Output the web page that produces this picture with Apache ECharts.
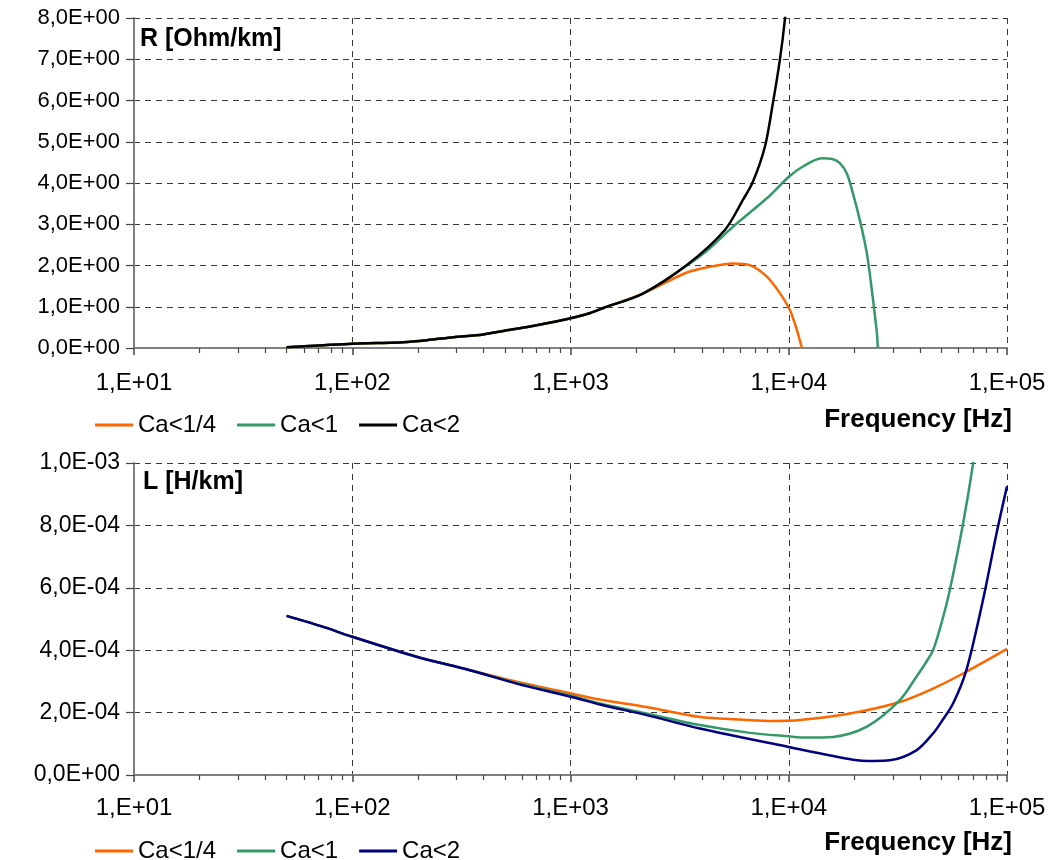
<!DOCTYPE html>
<html lang="en">
<head>
    <meta charset="UTF-8">
    <title>R / L vs frequency</title>
    <style type="text/css">
        html,body{margin:0;padding:0;background:#fff;}
        #main{width:1051px;height:860px;}
    </style>
</head>
<body>
<div id="main"></div>
<script src="https://cdn.jsdelivr.net/npm/echarts@6/dist/echarts.min.js"></script>
<script>
    // ---- R [Ohm/km] (top chart) ----
    var rFreqLow = [50, 70, 100, 130, 171, 220, 290, 398, 500, 652, 800, 1000, 1200, 1413, 2146];
    var rLow     = [0.02, 0.06, 0.105, 0.12, 0.14, 0.19, 0.26, 0.33, 0.42, 0.52, 0.61, 0.72, 0.83, 0.97, 1.32];

    var rFreqQuarter = [3413, 4350, 5546, 6637, 7937, 9102, 10117, 10890, 11480];
    var rQuarter     = [1.83, 1.97, 2.05, 2.01, 1.73, 1.33, 0.92, 0.44, 0.0];

    var rFreqOne = [3413, 4200, 5546, 7937, 10012, 11610, 14180, 15800, 17140, 18450, 19680, 21170, 22790, 24030, 25340, 25590];
    var rOne     = [2.0, 2.35, 2.94, 3.63, 4.15, 4.40, 4.60, 4.58, 4.48, 4.23, 3.75, 3.1, 2.3, 1.4, 0.36, 0.0];

    var rFreqTwo = [3413, 5096, 6166, 6850, 7776, 8455, 9102, 9594, 9800];
    var rTwo     = [2.01, 2.86, 3.59, 4.03, 4.88, 5.93, 6.98, 7.95, 8.6];

    // ---- L [H/km] (bottom chart), values in 1e-4 H/km ----
    var lFreqLow = [50, 72, 100, 197, 346];
    var lLow     = [5.10, 4.77, 4.43, 3.79, 3.36];

    var lFreqQuarter = [566, 1012, 1364, 2233, 3917, 6000, 8490, 11240, 19050, 32280, 45820, 65150, 100000];
    var lQuarter     = [2.99, 2.61, 2.42, 2.18, 1.86, 1.78, 1.73, 1.76, 1.97, 2.34, 2.77, 3.31, 4.04];

    var lFreqOne = [566, 1012, 1364, 2233, 3917, 6637, 9964, 12060, 15960, 22700, 32280, 38450, 42000, 45820, 50000, 54700, 62950, 69970, 72000];
    var lOne     = [2.95, 2.54, 2.29, 1.97, 1.60, 1.35, 1.24, 1.20, 1.22, 1.54, 2.40, 3.15, 3.55, 4.0, 4.85, 5.93, 8.07, 10.0, 10.8];

    var lFreqTwo = [566, 1012, 1364, 2233, 3917, 9964, 19720, 24360, 29040, 38450, 45820, 50000, 56610, 65150, 77620, 89580, 100000];
    var lTwo     = [2.93, 2.50, 2.26, 1.92, 1.49, 0.90, 0.49, 0.45, 0.47, 0.79, 1.33, 1.70, 2.29, 3.36, 5.61, 7.75, 9.25];

    var seriesNames = ['Ca<1/4', 'Ca<1', 'Ca<2'];
    var minorFreqs = [20, 30, 40, 50, 60, 70, 80, 90,
        200, 300, 400, 500, 600, 700, 800, 900,
        2000, 3000, 4000, 5000, 6000, 7000, 8000, 9000,
        20000, 30000, 40000, 50000, 60000, 70000, 80000, 90000];

    function pairs(fa, va, scale) {
        var out = [];
        for (var i = 0; i < fa.length; i++) {
            out.push([fa[i], va[i] * (scale || 1)]);
        }
        return out;
    }
    function join(a, b) { return a.concat(b); }

    function pad2(n) { return (n < 10 ? '0' : '') + n; }
    function sciLabel(v) {
        if (v === 0) return '0,0E+00';
        var e = Math.floor(Math.log10(v) + 1e-9);
        var m = v / Math.pow(10, e);
        return m.toFixed(1).replace('.', ',') + 'E' + (e < 0 ? '-' : '+') + pad2(Math.abs(e));
    }
    function freqLabel(v) {
        return '1,E+' + pad2(Math.round(Math.log10(v)));
    }

    var FONT = 'Liberation Sans, Arial, sans-serif';
    var GRAY = '#808080';
    var TICK = '#444';
    var dash = {type: [6, 5], color: '#3a3a3a', width: 1};

    function mainX(gi, margin) {
        return {
            type: 'log', logBase: 10, gridIndex: gi, min: 10, max: 100000, position: 'bottom',
            axisLine: {show: true, onZero: false, lineStyle: {color: GRAY, width: 2}},
            axisTick: {show: true, length: 7, lineStyle: {color: TICK, width: 1.5}},
            axisLabel: {formatter: freqLabel, fontSize: 24, margin: margin, color: '#000', fontFamily: FONT},
            splitLine: {show: true, lineStyle: dash}
        };
    }
    // helper axis (own overlay grid) in log10(f) units, only draws the 2..9 minor ticks
    function minorX(gi) {
        return {
            type: 'value', gridIndex: gi, min: 1, max: 5, position: 'bottom',
            axisLine: {show: true, onZero: false, lineStyle: {color: GRAY, width: 1, opacity: 0}},
            axisLabel: {show: false},
            splitLine: {show: false},
            axisTick: {show: true, length: 5, lineStyle: {color: TICK, width: 1.2},
                customValues: minorFreqs.map(function (f) { return Math.log10(f); })}
        };
    }
    function hiddenY(gi) {
        return {type: 'value', gridIndex: gi, min: 0, max: 1, show: false};
    }
    function yAx(gi, max, interval, fs) {
        return {
            type: 'value', gridIndex: gi, min: 0, max: max, interval: interval,
            axisLine: {show: true, lineStyle: {color: GRAY, width: 2}},
            axisTick: {show: true, length: 8, lineStyle: {color: TICK, width: 1.2}},
            axisLabel: {formatter: sciLabel, fontSize: fs, margin: 14, color: '#000', fontFamily: FONT},
            splitLine: {show: true, lineStyle: dash}
        };
    }
    function line(name, color, xi, yi, data) {
        return {
            name: name, type: 'line', xAxisIndex: xi, yAxisIndex: yi,
            showSymbol: false, symbol: 'none', smooth: 0.3,
            lineStyle: {color: color, width: 2.5}, itemStyle: {color: color},
            data: data
        };
    }

    var topRect = {left: 134, right: 44, top: 18, height: 330};
    var botRect = {left: 134, right: 44, top: 463, height: 312};

    var chart = echarts.init(document.getElementById('main'));
    var option = {
        backgroundColor: '#fff',
        animation: false,
        textStyle: {fontFamily: FONT},
        title: [
            {text: 'R [Ohm/km]', left: 140, top: 27, padding: 0,
                textStyle: {fontSize: 25, fontWeight: 'bold', color: '#000', fontFamily: FONT}},
            {text: 'Frequency [Hz]', right: 39, top: 407, padding: 0,
                textStyle: {fontSize: 26, fontWeight: 'bold', color: '#000', fontFamily: FONT}},
            {text: 'L [H/km]', left: 143, top: 470, padding: 0,
                textStyle: {fontSize: 25, fontWeight: 'bold', color: '#000', fontFamily: FONT}},
            {text: 'Frequency [Hz]', right: 39, top: 830, padding: 0,
                textStyle: {fontSize: 26, fontWeight: 'bold', color: '#000', fontFamily: FONT}}
        ],
        legend: [
            {left: 95, top: 413, icon: 'rect', itemWidth: 38, itemHeight: 3, itemGap: 21, padding: 0,
                textStyle: {fontSize: 24, color: '#000', fontFamily: FONT},
                data: [
                    {name: 'Ca<1/4', itemStyle: {color: '#FF6600'}},
                    {name: 'Ca<1', itemStyle: {color: '#339966'}},
                    {name: 'Ca<2', itemStyle: {color: '#000000'}}
                ]},
            {left: 95, top: 839, icon: 'rect', itemWidth: 38, itemHeight: 3, itemGap: 21, padding: 0,
                textStyle: {fontSize: 24, color: '#000', fontFamily: FONT},
                data: [
                    {name: 'Ca<1/4', itemStyle: {color: '#FF6600'}},
                    {name: 'Ca<1', itemStyle: {color: '#339966'}},
                    {name: 'Ca<2', itemStyle: {color: '#000080'}}
                ]}
        ],
        grid: [topRect, botRect, topRect, botRect],
        xAxis: [mainX(0, 23), mainX(1, 21), minorX(2), minorX(3)],
        yAxis: [yAx(0, 8, 1, 22), yAx(1, 0.001, 0.0002, 23), hiddenY(2), hiddenY(3)],
        series: [
            line(seriesNames[0], '#FF6600', 0, 0, pairs(join(rFreqLow, rFreqQuarter), join(rLow, rQuarter))),
            line(seriesNames[1], '#339966', 0, 0, pairs(join(rFreqLow, rFreqOne), join(rLow, rOne))),
            line(seriesNames[2], '#000000', 0, 0, pairs(join(rFreqLow, rFreqTwo), join(rLow, rTwo))),
            line(seriesNames[0], '#FF6600', 1, 1, pairs(join(lFreqLow, lFreqQuarter), join(lLow, lQuarter), 1e-4)),
            line(seriesNames[1], '#339966', 1, 1, pairs(join(lFreqLow, lFreqOne), join(lLow, lOne), 1e-4)),
            line(seriesNames[2], '#000080', 1, 1, pairs(join(lFreqLow, lFreqTwo), join(lLow, lTwo), 1e-4))
        ]
    };
    chart.setOption(option);
</script>
</body>
</html>
